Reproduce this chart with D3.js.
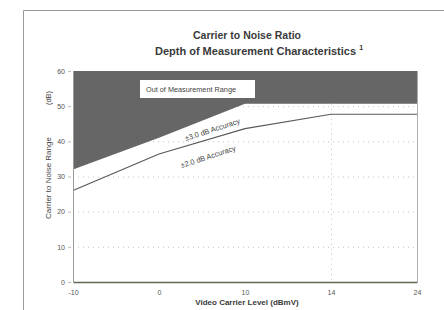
<!DOCTYPE html>
<html>
<head>
<meta charset="utf-8">
<script src="https://cdn.jsdelivr.net/npm/d3@7"></script>
<style>
  body { margin: 0; background: #fff; }
  svg { display: block; font-family: "Liberation Sans", Arial, sans-serif; }
</style>
</head>
<body>
<script>
// x axis is categorical (not linear in dBmV)
var xLabels = ['-10', '0', '10', '14', '24'];
// lower edge of the "out of range" band (dB)
var rangeLimit = [32, 41, 50.7, 50.7, 50.7];
// boundary between +-3.0 and +-2.0 dB accuracy (dB)
var accuracyLine = [26, 36.4, 43.6, 47.7, 47.7];
var yTicks = [0, 10, 20, 30, 40, 50, 60];
var gridTicks = [10, 20, 30, 40, 50];

var width = 444, height = 310;
var margin = { left: 73, right: 27, top: 71, bottom: 28 };

var svg = d3.select('body')
  .append('svg')
  .attr('width', width)
  .attr('height', height);

// outer frame
svg.append('path')
  .attr('d', 'M23.5,' + height + 'V10.5H' + width)
  .attr('fill', 'none')
  .attr('stroke', '#9a9a9a')
  .attr('stroke-width', 1);

var x = d3.scalePoint()
  .domain(xLabels)
  .range([margin.left, width - margin.right]);

var y = d3.scaleLinear()
  .domain([0, 60])
  .range([height - margin.bottom, margin.top]);

// titles
svg.append('text')
  .attr('x', 247).attr('y', 39)
  .attr('text-anchor', 'middle')
  .attr('font-size', 10.5).attr('font-weight', 'bold')
  .attr('fill', '#3a3a3a')
  .text('Carrier to Noise Ratio');

var t2 = svg.append('text')
  .attr('x', 259).attr('y', 55)
  .attr('text-anchor', 'middle')
  .attr('font-size', 11).attr('font-weight', 'bold')
  .attr('fill', '#3a3a3a');
t2.append('tspan').text('Depth of Measurement Characteristics ');
t2.append('tspan').attr('font-size', 7).attr('dy', -5).text('1');

// dark band
var band = d3.area()
  .x(function(d, i) { return x(xLabels[i]); })
  .y0(y(60))
  .y1(function(d) { return y(d); });

// dotted grid
svg.selectAll('.hgrid')
  .data(gridTicks)
  .enter()
  .append('line')
  .attr('class', 'hgrid')
  .attr('x1', x.range()[0]).attr('x2', x.range()[1])
  .attr('y1', function(d) { return y(d) + 0.5; })
  .attr('y2', function(d) { return y(d) + 0.5; })
  .attr('stroke', '#c4c4c4')
  .attr('stroke-dasharray', '1,4');

// the grid is hidden under the dark band where it overlaps
svg.append('path')
  .datum(rangeLimit)
  .attr('d', band)
  .attr('fill', '#666');

svg.append('line')
  .attr('x1', x('14') + 0.5).attr('x2', x('14') + 0.5)
  .attr('y1', y(rangeLimit[3])).attr('y2', y(0))
  .attr('stroke', '#c4c4c4')
  .attr('stroke-dasharray', '1,4');

// accuracy boundary
var line = d3.line()
  .x(function(d, i) { return x(xLabels[i]); })
  .y(function(d) { return y(d); });

svg.append('path')
  .datum(accuracyLine)
  .attr('d', line)
  .attr('fill', 'none')
  .attr('stroke', '#5a5a5a')
  .attr('stroke-width', 1.2);

// plot border
svg.append('line')
  .attr('x1', x.range()[0] + 0.5).attr('x2', x.range()[0] + 0.5)
  .attr('y1', y(60)).attr('y2', y(0))
  .attr('stroke', '#9a9a9a');
svg.append('line')
  .attr('x1', x.range()[1] + 0.5).attr('x2', x.range()[1] + 0.5)
  .attr('y1', y(60)).attr('y2', y(0))
  .attr('stroke', '#b0b0b0');

// x axis
var xAxis = svg.append('g')
  .attr('transform', 'translate(0,' + y(0) + ')')
  .call(d3.axisBottom(x).tickSize(0).tickPadding(8));
xAxis.select('.domain').attr('stroke', '#5c6a52').attr('stroke-width', 1.5);
xAxis.selectAll('text').attr('font-size', 7).attr('fill', '#555')
  .attr('font-family', '"Liberation Sans", Arial, sans-serif');

// y axis
var yAxis = svg.append('g')
  .attr('transform', 'translate(' + (x.range()[0] - 2) + ',0)')
  .call(d3.axisLeft(y).tickValues(yTicks).tickSize(3).tickPadding(3));
yAxis.select('.domain').remove();
yAxis.selectAll('line').attr('stroke', '#bbb');
yAxis.selectAll('text').attr('font-size', 7).attr('fill', '#555')
  .attr('font-family', '"Liberation Sans", Arial, sans-serif');

// axis titles
svg.append('text')
  .attr('x', 247).attr('y', 305)
  .attr('text-anchor', 'middle')
  .attr('font-size', 8).attr('font-weight', 'bold')
  .attr('fill', '#3a3a3a')
  .text('Video Carrier Level (dBmV)');

svg.append('text')
  .attr('transform', 'translate(51,178) rotate(-90)')
  .attr('text-anchor', 'middle')
  .attr('font-size', 8)
  .attr('fill', '#444')
  .text('Carrier to Noise Range');
svg.append('text')
  .attr('transform', 'translate(51,98) rotate(-90)')
  .attr('text-anchor', 'middle')
  .attr('font-size', 7.5)
  .attr('fill', '#444')
  .text('(dB)');

// labels
svg.append('rect')
  .attr('x', 140).attr('y', 80)
  .attr('width', 115).attr('height', 18)
  .attr('fill', '#fff');
svg.append('text')
  .attr('x', 146).attr('y', 92)
  .attr('font-size', 7.3)
  .attr('fill', '#444')
  .text('Out of Measurement Range');

var step = x.step();
svg.append('text')
  .attr('transform', 'translate(' + (x('0') + step * 0.63) + ',' + (y(43.2) + 2) + ') rotate(-18)')
  .attr('text-anchor', 'middle')
  .attr('font-size', 7.4)
  .attr('fill', '#444')
  .text('±3.0 dB Accuracy');
svg.append('text')
  .attr('transform', 'translate(' + (x('0') + step * 0.58) + ',' + (y(35.5) + 2) + ') rotate(-18)')
  .attr('text-anchor', 'middle')
  .attr('font-size', 7.4)
  .attr('fill', '#444')
  .text('±2.0 dB Accuracy');
</script>
</body>
</html>
